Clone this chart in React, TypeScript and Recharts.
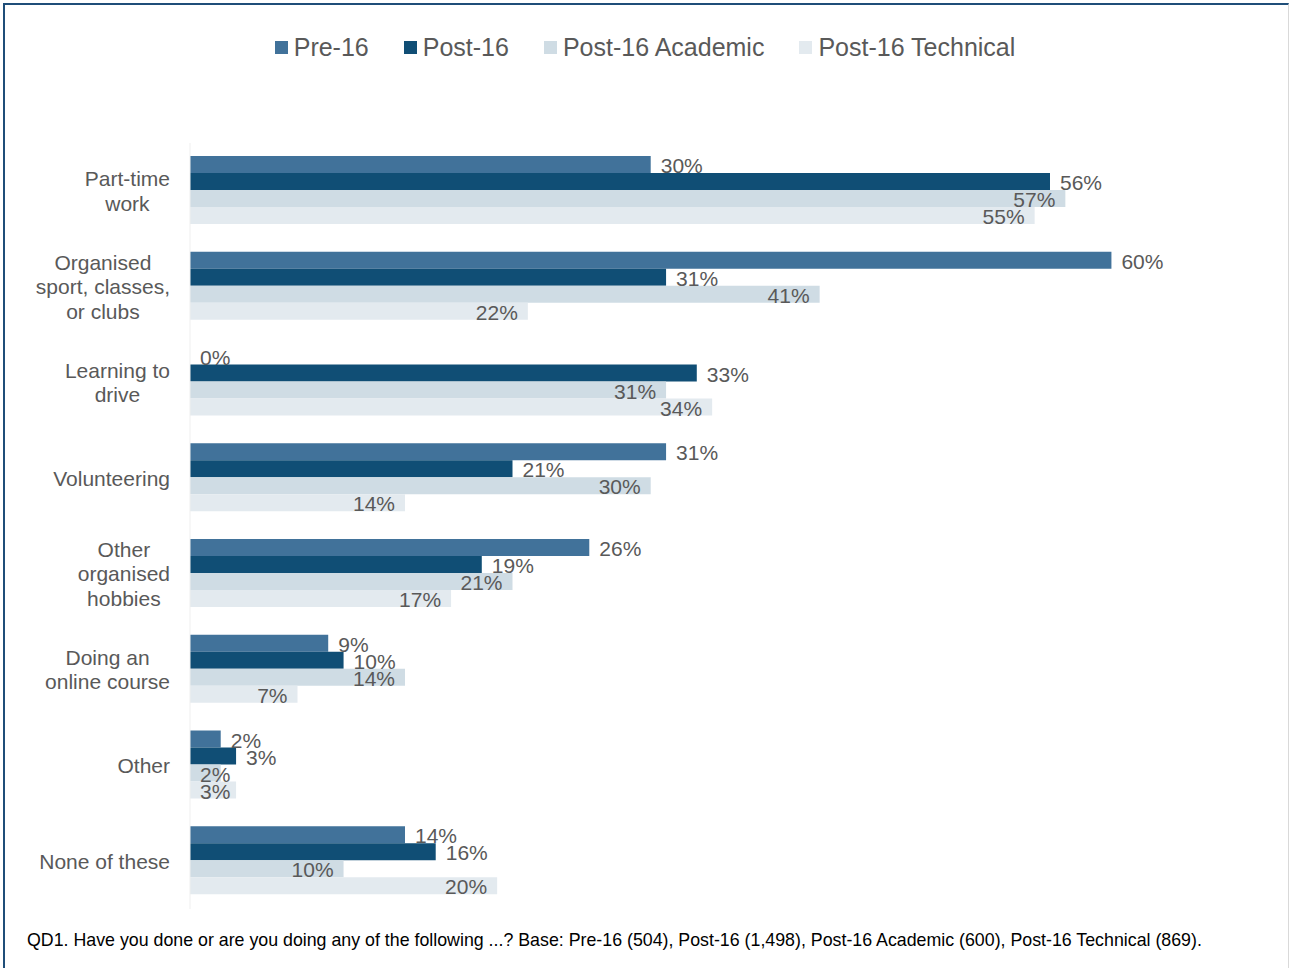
import { Bar, BarChart, LabelList, Legend, XAxis, YAxis } from "recharts";

const categories = [
  "Part-time\nwork",
  "Organised\nsport, classes,\nor clubs",
  "Learning to\ndrive",
  "Volunteering",
  "Other\norganised\nhobbies",
  "Doing an\nonline course",
  "Other",
  "None of these",
];
const seriesNames = ["Pre-16", "Post-16", "Post-16 Academic", "Post-16 Technical"];
const pre16 = [30, 60, 0, 31, 26, 9, 2, 14];
const post16 = [56, 31, 33, 21, 19, 10, 3, 16];
const post16Academic = [57, 41, 31, 30, 21, 14, 2, 10];
const post16Technical = [55, 22, 34, 14, 17, 7, 3, 20];
const footnote =
  "QD1. Have you done or are you doing any of the following ...? Base: Pre-16 (504), Post-16 (1,498), Post-16 Academic (600), Post-16 Technical (869).";

const data = categories.map((name, i) => ({
  name,
  pre16: pre16[i],
  post16: post16[i],
  academic: post16Academic[i],
  technical: post16Technical[i],
}));

const FONT = '"Liberation Sans", Arial, sans-serif';
const GREY = "#595959";

let ctx: CanvasRenderingContext2D | null = null;
function textWidth(s: string, size: number) {
  if (!ctx) ctx = document.createElement("canvas").getContext("2d");
  if (!ctx) return s.length * size * 0.5;
  ctx.font = `${size}px ${FONT}`;
  return ctx.measureText(s).width;
}

function CategoryTick({ x, y, payload }: any) {
  const lines = String(payload.value).split("\n");
  const w = Math.max(...lines.map((l) => textWidth(l, 21)));
  const cx = x - w / 2;
  const lh = 24.5;
  const y0 = y - ((lines.length - 1) * lh) / 2;
  return (
    <text x={cx} y={y0} textAnchor="middle" fill={GREY} fontSize={21} fontFamily={FONT}>
      {lines.map((l, i) => (
        <tspan key={i} x={cx} y={y0 + i * lh} dy="0.36em">
          {l}
        </tspan>
      ))}
    </text>
  );
}

function LegendContent({ payload }: any) {
  const items = [...(payload || [])].sort(
    (a: any, b: any) => seriesNames.indexOf(a.value) - seriesNames.indexOf(b.value)
  );
  return (
    <div style={{ display: "flex", justifyContent: "center", gap: 35, fontFamily: FONT, fontSize: 25, color: GREY }}>
      {items.map((p: any) => (
        <div key={p.value} style={{ display: "flex", alignItems: "center" }}>
          <span style={{ width: 13, height: 13, background: p.color, marginRight: 6, display: "inline-block" }} />
          <span>{p.value}</span>
        </div>
      ))}
    </div>
  );
}

// Excel-style "outside end" label
function OutsideLabel({ x, y, width, height, value }: any) {
  return (
    <text x={x + width + 10} y={y + height / 2 + 1} dy="0.36em" fill={GREY} fontSize={21} fontFamily={FONT}>
      {`${value}%`}
    </text>
  );
}

// Excel-style "inside end" label, pushed back to the base when the bar is too short
function InsideLabel({ x, y, width, height, value }: any) {
  const s = `${value}%`;
  const w = textWidth(s, 21);
  const tx = Math.max(x + width - 10 - w, x + 10);
  return (
    <text x={tx} y={y + height / 2 + 1} dy="0.36em" fill={GREY} fontSize={21} fontFamily={FONT}>
      {s}
    </text>
  );
}

// keep a zero bar in the layout (so its label is drawn) without showing it
const keepZero = (v: any) => (v === 0 ? 0.01 : 0);

export default function App() {
  return (
    <div style={{ position: "absolute", left: 0, top: 0, width: 1290, height: 968, background: "#fff" }}>
      <div
        style={{
          position: "absolute",
          left: 3,
          top: 3,
          width: 1283,
          height: 980,
          borderTop: "2px solid #1F4E79",
          borderLeft: "2px solid #1F4E79",
          borderRight: "1px solid #D9D9D9",
        }}
      />
      <div style={{ position: "absolute", left: 0, top: 0 }}>
        <BarChart
          width={1290}
          height={968}
          data={data}
          layout="vertical"
          margin={{ top: 143, right: 25, bottom: 59, left: 0 }}
          barCategoryGap={13}
          barGap={0}
          style={{ fontFamily: FONT }}
        >
          <XAxis type="number" domain={[0, 70]} hide />
          <YAxis
            type="category"
            dataKey="name"
            width={190}
            axisLine={{ stroke: "#EFEFEF" }}
            tickLine={false}
            tickSize={0}
            tickMargin={20}
            tick={<CategoryTick />}
            interval={0}
          />
          <Legend
            layout="horizontal"
            verticalAlign="middle"
            align="center"
            wrapperStyle={{ top: 33, left: 0, width: 1290 }}
            content={<LegendContent />}
          />
          <Bar dataKey="pre16" name={seriesNames[0]} fill="#41729A" minPointSize={keepZero} isAnimationActive={false}>
            <LabelList dataKey="pre16" content={<OutsideLabel />} />
          </Bar>
          <Bar dataKey="post16" name={seriesNames[1]} fill="#104E75" isAnimationActive={false}>
            <LabelList dataKey="post16" content={<OutsideLabel />} />
          </Bar>
          <Bar dataKey="academic" name={seriesNames[2]} fill="#CFDCE4" isAnimationActive={false}>
            <LabelList dataKey="academic" content={<InsideLabel />} />
          </Bar>
          <Bar dataKey="technical" name={seriesNames[3]} fill="#E3EAEF" isAnimationActive={false}>
            <LabelList dataKey="technical" content={<InsideLabel />} />
          </Bar>
        </BarChart>
      </div>
      <div
        style={{
          position: "absolute",
          left: 27,
          top: 930,
          fontFamily: FONT,
          fontSize: 17.8,
          color: "#000",
          whiteSpace: "nowrap",
        }}
      >
        {footnote}
      </div>
    </div>
  );
}
